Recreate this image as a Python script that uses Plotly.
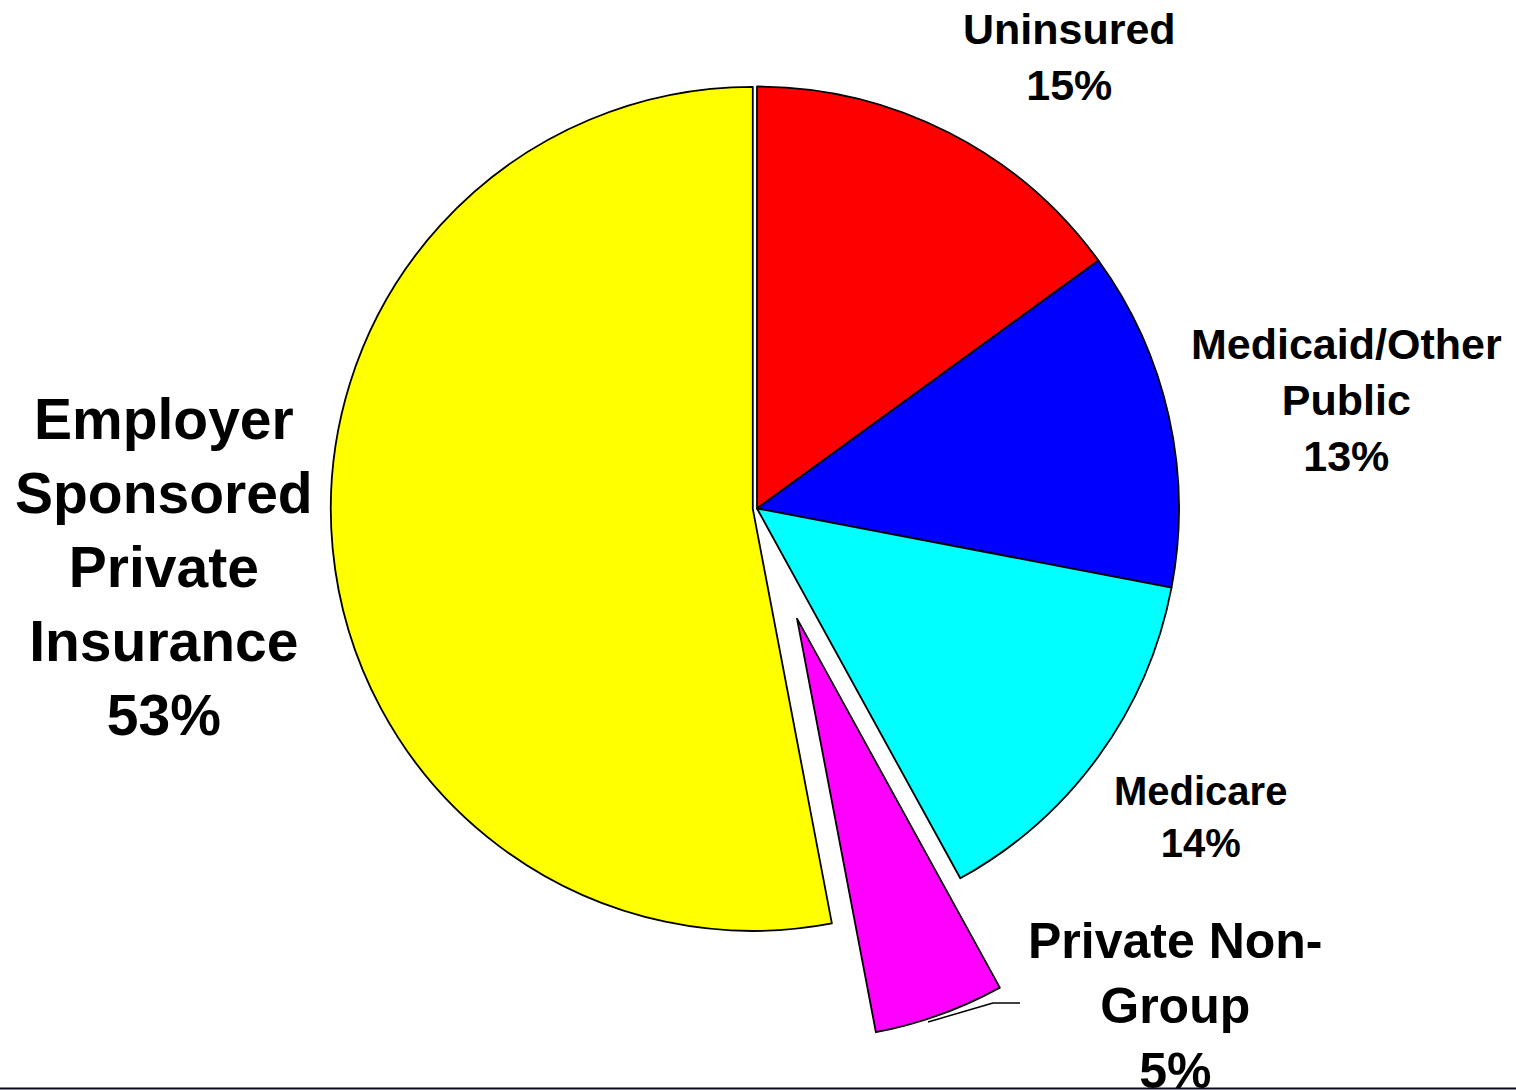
import math
import plotly.graph_objects as go

# Coverage shares (percent), clockwise from 12 o'clock
categories = ["Uninsured", "Medicaid/Other Public", "Medicare",
              "Private Non-Group", "Employer Sponsored Private Insurance"]
shares = [15, 13, 14, 5, 53]
label_lines = ["Uninsured", "Medicaid/Other<br>Public", "Medicare",
               "Private Non-<br>Group", "Employer<br>Sponsored<br>Private<br>Insurance"]
colors = ["#FF0000", "#0000FF", "#00FFFF", "#FF00FF", "#FFFF00"]

W, H = 1516, 1090
CX, CY, R = 757.0, 508.5, 422.0      # pie centre / radius in pixels
EMP_PULL = 0.01                      # small offset of the employer slice
NONGROUP_PULL = 0.28                 # exploded non-group slice
NONGROUP_IDX = 3
EMP_IDX = 4
TRANSPARENT = "rgba(0,0,0,0)"


def domain_for(cx, cy, half):
    return dict(x=[(cx - half) / W, (cx + half) / W],
                y=[1 - (cy + half) / H, 1 - (cy - half) / H])


# main pie (non-group slice hidden, drawn separately as an exploded wedge)
main_colors = [TRANSPARENT if i == NONGROUP_IDX else c for i, c in enumerate(colors)]
main_widths = [0 if i == NONGROUP_IDX else 1.8 for i in range(len(shares))]
pulls = [EMP_PULL if i == EMP_IDX else 0 for i in range(len(shares))]

fig = go.Figure()
fig.add_trace(go.Pie(
    labels=categories, values=shares, sort=False, direction="clockwise",
    rotation=0, pull=pulls, textinfo="none", hoverinfo="label+percent",
    showlegend=False,
    marker=dict(colors=main_colors, line=dict(color="black", width=main_widths)),
    domain=domain_for(CX, CY, R * (1 + EMP_PULL)),
))

# exploded wedge: same pie, shifted along the wedge's mid-angle
total = sum(shares)
start = sum(shares[:NONGROUP_IDX]) / total * 360
mid = math.radians(start + shares[NONGROUP_IDX] / total * 180)
ox = CX + NONGROUP_PULL * R * math.sin(mid)
oy = CY - NONGROUP_PULL * R * math.cos(mid)
ng_colors = [c if i == NONGROUP_IDX else TRANSPARENT for i, c in enumerate(colors)]
ng_widths = [1.8 if i == NONGROUP_IDX else 0 for i in range(len(shares))]
fig.add_trace(go.Pie(
    labels=categories, values=shares, sort=False, direction="clockwise",
    rotation=0, textinfo="none", hoverinfo="skip", showlegend=False,
    marker=dict(colors=ng_colors, line=dict(color="black", width=ng_widths)),
    domain=domain_for(ox, oy - 1, R - 1),
))

# label placement (pixel centres) and font sizes
label_pos = [(1069, 57), (1346, 400), (1200, 817), (1175, 1006), (164, 567)]
label_size = [43, 43, 40, 50, 57]

for txt, val, (px, py), fs in zip(label_lines, shares, label_pos, label_size):
    fig.add_annotation(
        text=f"{txt}<br>{val}%", x=px / W, y=1 - py / H, xref="paper", yref="paper",
        xanchor="center", yanchor="middle", showarrow=False, align="center",
        font=dict(family="Liberation Sans, Arial, sans-serif", size=fs,
                  color="black", weight="bold"),
    )

# leader line for the exploded wedge
leader = [(928, 1022), (993, 1003), (1020, 1003)]
for (x0, y0), (x1, y1) in zip(leader[:-1], leader[1:]):
    fig.add_shape(type="line", xref="paper", yref="paper",
                  x0=x0 / W, y0=1 - y0 / H, x1=x1 / W, y1=1 - y1 / H,
                  line=dict(color="black", width=1.5))

# rule along the bottom edge
fig.add_shape(type="line", xref="paper", yref="paper",
              x0=0, x1=1, y0=1 - 1088.5 / H, y1=1 - 1088.5 / H,
              line=dict(color="#0a0a1e", width=2))

fig.update_layout(
    width=W, height=H, margin=dict(l=0, r=0, t=0, b=0),
    paper_bgcolor="white", plot_bgcolor="white", showlegend=False,
)

fig.write_html("out.html")
